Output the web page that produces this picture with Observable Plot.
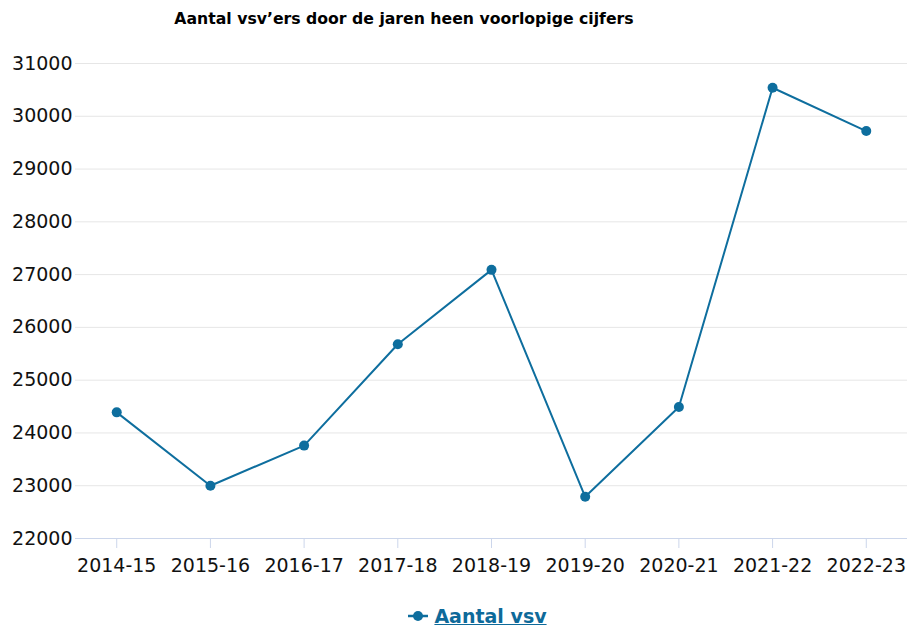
<!DOCTYPE html>
<html><head><meta charset="utf-8">
<script src="https://cdn.jsdelivr.net/npm/d3@7"></script>
<script src="https://cdn.jsdelivr.net/npm/@observablehq/plot@0.6"></script>
<style>
body{margin:0;background:#fff;font-family:"DejaVu Sans",sans-serif;}
#wrap{width:908px;position:relative;}
#title{height:35px;line-height:38px;font-weight:bold;font-size:15.7px;font-family:"DejaVu Sans",sans-serif;text-align:center;width:808px;color:#000;white-space:nowrap;}
#legend{display:flex;justify-content:center;align-items:center;gap:6px;color:#0e6a9a;font-weight:bold;font-size:19px;padding-left:47px;padding-top:11px;box-sizing:border-box;height:41px;line-height:22px;}
#legend span.t{text-decoration:underline;}
</style></head>
<body><div id="wrap">
<div id="title">Aantal vsv’ers door de jaren heen voorlopige cijfers</div>
<div id="chart"></div>
<div id="legend"><svg width="20" height="12"><line x1="0" x2="20" y1="6" y2="6" stroke="#0e6e9e" stroke-width="2.5"/><circle cx="10" cy="6" r="5" fill="#0e6e9e"/></svg><span class="t">Aantal vsv</span></div>
</div>
<script>
const years = ["2014-15","2015-16","2016-17","2017-18","2018-19","2019-20","2020-21","2021-22","2022-23"];
const values = [24390, 23000, 23760, 25680, 27090, 22790, 24490, 30540, 29720];
const yTicks = [22000,23000,24000,25000,26000,27000,28000,29000,30000,31000];
const color = "#0e6e9e";
const data = years.map((y,i)=>({year:y, value:values[i]}));
const chart = Plot.plot({
  width: 908, height: 555,
  marginLeft: 75, marginRight: 1, marginTop: 28, marginBottom: 52,
  style:{fontFamily:"DejaVu Sans, sans-serif", fontSize:"19px", color:"#111", background:"#fff"},
  x:{type:"point", domain: years, padding:0.44, round:false, label:null},
  y:{domain:[22000,31000], ticks: yTicks, label:null},
  marks:[
    Plot.ruleY(yTicks.slice(1), {stroke:"#e6e6e6", strokeWidth:1}),
    Plot.ruleY([22000], {stroke:"#ccd6eb", strokeWidth:1}),
    Plot.axisY({ticks:yTicks, tickSize:0, tickPadding:3, tickFormat:d=>String(d), fontSize:19}),
    Plot.axisX({tickSize:10, stroke:"#ccd6eb", strokeOpacity:1, tickPadding:10, fontSize:19}),
    Plot.line(data, {x:"year", y:"value", stroke:color, strokeWidth:2}),
    Plot.dot(data, {x:"year", y:"value", fill:color, r:5})
  ]
});
document.getElementById("chart").appendChild(chart);
</script>
</body></html>
